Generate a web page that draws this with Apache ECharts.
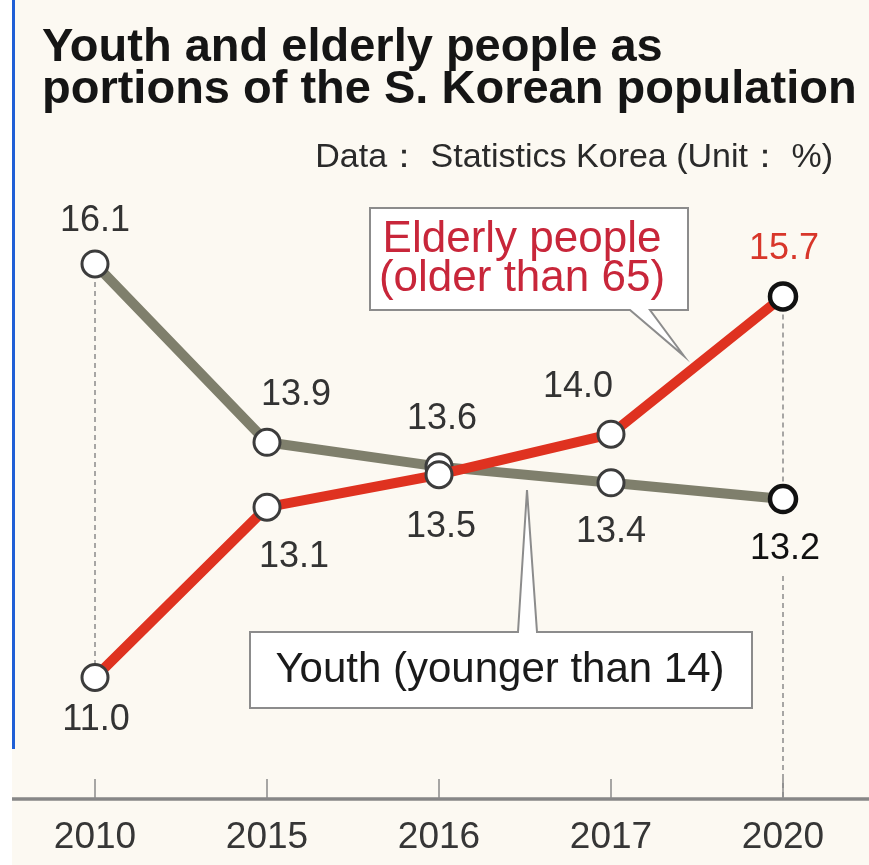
<!DOCTYPE html>
<html>
<head>
<meta charset="utf-8">
<title>Youth and elderly people</title>
<script src="https://cdn.jsdelivr.net/npm/echarts@6/dist/echarts.min.js"></script>
<style>
  html, body { margin: 0; padding: 0; background: #fff; }
  #chart { width: 869px; height: 865px; }
</style>
</head>
<body>
<div id="chart"></div>
<script>
// data (Statistics Korea, unit %)
const years = ['2010', '2015', '2016', '2017', '2020']
const youth = [16.1, 13.9, 13.6, 13.4, 13.2]
const elderly = [11.0, 13.1, 13.5, 14.0, 15.7]

const font = "'Liberation Sans', Arial, sans-serif"

// label offsets around each marker (pixels)
const youthLabelOff = [[0, -43], [29, -47], [3, -48], [0, 49], [2, 50]]
const elderlyLabelOff = [[1, 43], [27, 50], [2, 52], [-33, -47], [1, -47]]

const markerStyle = { color: '#fff', borderColor: '#3c3c3c', borderWidth: 3 }
const lastMarker = { color: '#fff', borderColor: '#111', borderWidth: 4.5 }

const buildData = (values, offsets, lastLabelColor) => values.map((v, i) => {
  const last = i === values.length - 1
  return {
    value: v,
    itemStyle: last ? lastMarker : markerStyle,
    label: { offset: offsets[i], color: last ? lastLabelColor : '#333' }
  }
})

const chart = echarts.init(document.getElementById('chart'))

const option = {
  animation: false,
  backgroundColor: '#fcf9f2',
  title: [
    {
      text: 'Youth and elderly people as\nportions of the S. Korean population',
      left: 42, top: 27, padding: 0,
      textStyle: { fontFamily: font, fontSize: 47, fontWeight: 'bold', lineHeight: 42, color: '#151515' }
    },
    {
      text: 'Data： Statistics Korea (Unit： %)',
      right: 36, top: 141, padding: 0,
      textStyle: { fontFamily: font, fontSize: 34, fontWeight: 'normal', lineHeight: 34, color: '#2a2a2a' }
    }
  ],
  grid: { left: 9, width: 864, top: 191, height: 608 },
  xAxis: {
    type: 'category',
    data: years,
    boundaryGap: true,
    axisLine: { show: true, lineStyle: { color: '#878787', width: 3.5 } },
    axisTick: {
      show: true, alignWithLabel: true, inside: true, length: 20,
      lineStyle: { color: '#8a8a8a', width: 1.5 }
    },
    axisLabel: { fontFamily: font, fontSize: 37, color: '#363636', margin: 20 },
    splitLine: { show: false }
  },
  yAxis: { type: 'value', min: 9.5, max: 17, show: false },
  series: [
    {
      name: 'Youth',
      type: 'line',
      z: 2,
      data: buildData(youth, youthLabelOff, '#111'),
      symbol: 'circle',
      symbolSize: 26,
      lineStyle: { color: '#7f7f6c', width: 10 },
      label: {
        show: true, position: 'inside', fontFamily: font, fontSize: 36,
        formatter: p => p.value.toFixed(1)
      },
      markLine: {
        silent: true,
        symbol: 'none',
        z: 1,
        label: { show: false },
        lineStyle: { color: '#8a8a8a', width: 1.5, type: [5, 4] },
        data: [
          [{ coord: [years[0], youth[0]] }, { coord: [years[0], elderly[0]] }],
          [{ coord: [years[4], elderly[4]] }, { coord: [years[4], youth[4]] }],
          [{ coord: [years[4], 12.25] }, { coord: [years[4], 9.5] }]
        ]
      }
    },
    {
      name: 'Elderly',
      type: 'line',
      z: 3,
      data: buildData(elderly, elderlyLabelOff, '#d8362a'),
      symbol: 'circle',
      symbolSize: 26,
      lineStyle: { color: '#df3220', width: 10 },
      label: {
        show: true, position: 'inside', fontFamily: font, fontSize: 36,
        formatter: p => p.value.toFixed(1)
      }
    }
  ],
  graphic: [
    // white strip and blue rule on the left
    { type: 'rect', z: 100, silent: true, shape: { x: 0, y: 0, width: 12, height: 865 }, style: { fill: '#fff' } },
    { type: 'rect', z: 101, silent: true, shape: { x: 12, y: 0, width: 3, height: 749 }, style: { fill: '#1f5fd6' } },
    // elderly callout
    {
      type: 'polygon', z: 10, silent: true,
      shape: { points: [[370, 208], [688, 208], [688, 310], [650, 310], [684, 356], [630, 310], [370, 310]] },
      style: { fill: '#fff', stroke: '#8c8c8c', lineWidth: 2 }
    },
    {
      type: 'text', z: 11, silent: true,
      style: {
        x: 522, y: 220, text: 'Elderly people\n(older than 65)', align: 'center', verticalAlign: 'top',
        fontFamily: font, fontSize: 44, lineHeight: 39, fill: '#c8263a'
      }
    },
    // youth callout
    {
      type: 'polygon', z: 10, silent: true,
      shape: { points: [[250, 632], [518, 632], [527, 490], [537, 632], [752, 632], [752, 708], [250, 708]] },
      style: { fill: '#fff', stroke: '#8c8c8c', lineWidth: 2 }
    },
    {
      type: 'text', z: 11, silent: true,
      style: {
        x: 500, y: 649, text: 'Youth (younger than 14)', align: 'center', verticalAlign: 'top',
        fontFamily: font, fontSize: 42, lineHeight: 42, fill: '#1a1a1a'
      }
    }
  ]
}

chart.setOption(option)
window.addEventListener('resize', () => { chart.resize() })
</script>
</body>
</html>
